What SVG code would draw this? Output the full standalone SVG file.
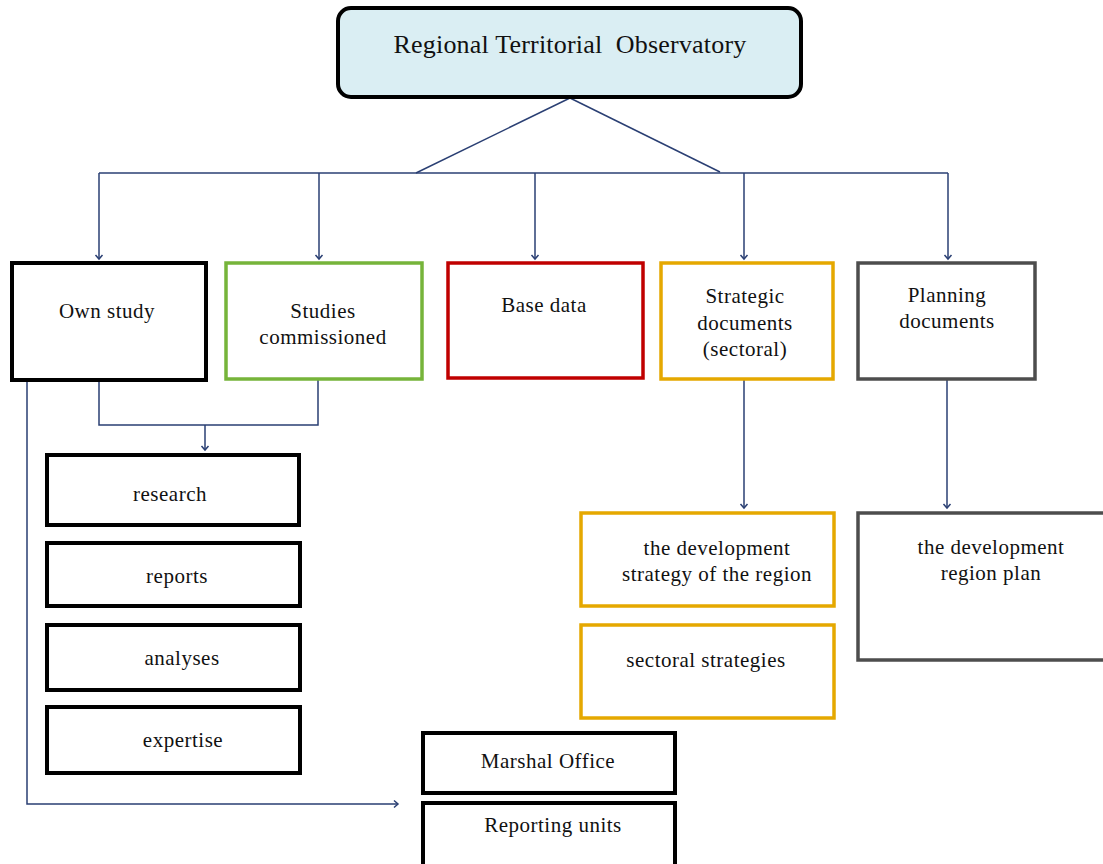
<svg xmlns="http://www.w3.org/2000/svg" width="1103" height="864" viewBox="0 0 1103 864">
<defs>
<marker id="arr" markerWidth="10" markerHeight="10" refX="5" refY="5" orient="auto" markerUnits="userSpaceOnUse">
<path d="M1,1.5 L5,5 L1,8.5" fill="none" stroke="#2a3f73" stroke-width="1.5"/>
</marker>
<style>
.t{font-family:"Liberation Serif","Times New Roman",serif;font-size:21px;letter-spacing:0.5px;fill:#111;text-anchor:middle}
.c{fill:none;stroke:#2a3f73;stroke-width:1.5}
.k{fill:#fff;stroke:#000;stroke-width:4}
</style>
</defs>
<rect width="1103" height="864" fill="#fff"/>
<g id="connectors">
<path class="c" d="M570,98 L416,173"/>
<path class="c" d="M570,98 L720,172"/>
<path class="c" d="M99,173 H948"/>
<path class="c" d="M99,173 V259" marker-end="url(#arr)"/>
<path class="c" d="M319,173 V259" marker-end="url(#arr)"/>
<path class="c" d="M535,173 V259" marker-end="url(#arr)"/>
<path class="c" d="M744,173 V259" marker-end="url(#arr)"/>
<path class="c" d="M948,173 V259" marker-end="url(#arr)"/>
<path class="c" d="M99,380 V425 H318 V380"/>
<path class="c" d="M205,425 V450" marker-end="url(#arr)"/>
<path class="c" d="M27,380 V804 H398" marker-end="url(#arr)"/>
<path class="c" d="M744,380 V508" marker-end="url(#arr)"/>
<path class="c" d="M947,380 V508" marker-end="url(#arr)"/>
</g>
<g id="observatory">
<rect x="338" y="8" width="463" height="89" rx="13" fill="#daeef3" stroke="#000" stroke-width="4"/>
<text class="t" x="570" y="53" style="font-size:26px;letter-spacing:0.2px;white-space:pre" xml:space="preserve">Regional Territorial  Observatory</text>
</g>
<g id="own-study">
<rect x="12" y="263" width="194" height="117" class="k"/>
<text class="t" x="107" y="318">Own study</text>
</g>
<g id="studies-commissioned">
<rect x="226" y="263" width="196" height="116" fill="#fff" stroke="#76b43a" stroke-width="3.5"/>
<text class="t" x="323" y="318">Studies</text>
<text class="t" x="323" y="344">commissioned</text>
</g>
<g id="base-data">
<rect x="448" y="263" width="195" height="115" fill="#fff" stroke="#c00000" stroke-width="3.5"/>
<text class="t" x="544" y="312">Base data</text>
</g>
<g id="strategic-documents">
<rect x="661" y="263" width="172" height="116" fill="#fff" stroke="#e5a800" stroke-width="3.5"/>
<text class="t" x="745" y="303">Strategic</text>
<text class="t" x="745" y="330">documents</text>
<text class="t" x="745" y="356">(sectoral)</text>
</g>
<g id="planning-documents">
<rect x="858" y="263" width="177" height="116" fill="#fff" stroke="#4d4d4d" stroke-width="3.5"/>
<text class="t" x="947" y="302">Planning</text>
<text class="t" x="947" y="328">documents</text>
</g>
<g id="research">
<rect x="47" y="455" width="252" height="70" class="k"/>
<text class="t" x="170" y="501">research</text>
</g>
<g id="reports">
<rect x="47" y="543" width="253" height="63" class="k"/>
<text class="t" x="177" y="583">reports</text>
</g>
<g id="analyses">
<rect x="47" y="625" width="253" height="65" class="k"/>
<text class="t" x="182" y="665">analyses</text>
</g>
<g id="expertise">
<rect x="47" y="707" width="253" height="66" class="k"/>
<text class="t" x="183" y="747">expertise</text>
</g>
<g id="development-strategy">
<rect x="581" y="513" width="253" height="93" fill="#fff" stroke="#e5a800" stroke-width="3.5"/>
<text class="t" x="717" y="555">the development</text>
<text class="t" x="717" y="581">strategy of the region</text>
</g>
<g id="sectoral-strategies">
<rect x="581" y="625" width="253" height="93" fill="#fff" stroke="#e5a800" stroke-width="3.5"/>
<text class="t" x="706" y="667">sectoral strategies</text>
</g>
<g id="development-plan">
<rect x="858" y="513" width="250" height="147" fill="#fff" stroke="#4d4d4d" stroke-width="3.5"/>
<text class="t" x="991" y="554">the development</text>
<text class="t" x="991" y="580">region plan</text>
</g>
<g id="marshal-office">
<rect x="423" y="733" width="252" height="60" class="k"/>
<text class="t" x="548" y="768">Marshal Office</text>
</g>
<g id="reporting-units">
<rect x="423" y="803" width="252" height="66" class="k"/>
<text class="t" x="553" y="832">Reporting units</text>
</g>
</svg>
